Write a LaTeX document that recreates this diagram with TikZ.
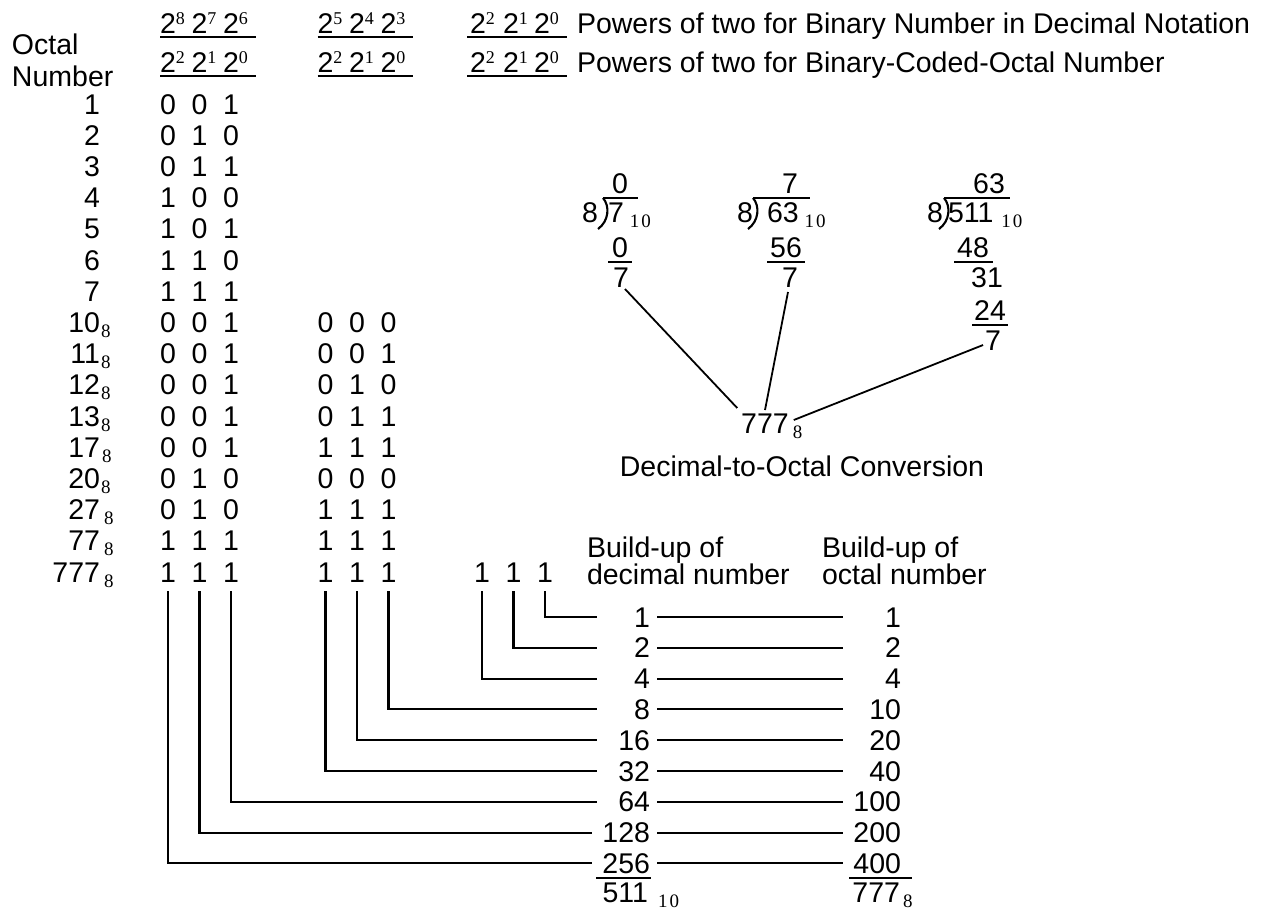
\documentclass[tikz,border=0pt]{standalone}
\usepackage{fontspec}
\setmainfont{Liberation Sans}
\newfontfamily\serf{Liberation Serif}
\usetikzlibrary{calc}
\newcommand\expo[1]{\rlap{\raisebox{9pt}{\serf\fontsize{18}{18}\selectfont #1}}}
\newcommand\subs[1]{\raisebox{-5pt}{\serf\fontsize{19}{19}\selectfont #1}}
\newcommand\trip[6]{%
  \node[dg] (#1a) at (#3,#2) {#4};
  \node[dg] (#1b) at ({#3+31.5},#2) {#5};
  \node[dg] (#1c) at ({#3+63},#2) {#6};}
\begin{document}
\begin{tikzpicture}[x=1pt,y=-1pt,
  every node/.style={inner sep=0pt, outer sep=0pt, font=\fontsize{28.5}{30}\selectfont},
  ln/.style={line width=2.1pt},
  dg/.style={anchor=base}]
\fill[white] (0,0) rectangle (1261,911);
\useasboundingbox (0,0) rectangle (1261,911);

% ---- headers
\foreach \x/\e [count=\k] in {168/8,199.5/7,231/6,325.5/5,357/4,388.5/3,478/2,511/1,542/0}
  \node[dg] (ha\k) at (\x,33) {2\expo{\e}};
\foreach \x/\e [count=\k] in {168/2,199.5/1,231/0,325.5/2,357/1,388.5/0,478/2,511/1,542/0}
  \node[dg] (hb\k) at (\x,72) {2\expo{\e}};
\foreach \r in {a,b}{
  \draw[ln] ($(h\r1.base west)+(0,4)$) -- ($(h\r3.base east)+(17,4)$);
  \draw[ln] ($(h\r4.base west)+(0,4)$) -- ($(h\r6.base east)+(17,4)$);
  \draw[ln] ($(h\r7.base west)+(-3,4)$) -- ($(h\r9.base east)+(17,4)$);
}
\node[anchor=base west] (t1) at (577,33) {Powers of two for Binary Number in Decimal Notation};
\node[anchor=base west] (t2) at (577,72) {Powers of two for Binary-Coded-Octal Number};
\node[anchor=base west] (oc) at (12,54) {Octal};
\node[anchor=base west] (nu) at (12,86) {Number};

% ---- octal numbers
\foreach \l/\y [count=\k from 0] in {1/114,2/145.2,3/176.4,4/207.6,5/238.8,6/270,7/301.2}
  \node[anchor=base east] (o\k) at (100,\y) {\l};
\foreach \l/\y/\kk [count=\k from 7] in {10/332.4/1,11/363.6/1,12/394.8/1,13/426/1,17/457.2/2,20/488.4/1,27/519.6/4,77/550.8/4,777/582/4}
  \node[anchor=base east] (o\k) at (100,\y) {\l\rlap{\kern\kk pt\subs{8}}};

% ---- binary digits
\trip{r0g1}{114}{168}{0}{0}{1}
\trip{r1g1}{145.2}{168}{0}{1}{0}
\trip{r2g1}{176.4}{168}{0}{1}{1}
\trip{r3g1}{207.6}{168}{1}{0}{0}
\trip{r4g1}{238.8}{168}{1}{0}{1}
\trip{r5g1}{270}{168}{1}{1}{0}
\trip{r6g1}{301.2}{168}{1}{1}{1}
\trip{r7g1}{332.4}{168}{0}{0}{1}   \trip{r7g2}{332.4}{325.5}{0}{0}{0}
\trip{r8g1}{363.6}{168}{0}{0}{1}   \trip{r8g2}{363.6}{325.5}{0}{0}{1}
\trip{r9g1}{394.8}{168}{0}{0}{1}   \trip{r9g2}{394.8}{325.5}{0}{1}{0}
\trip{r10g1}{426}{168}{0}{0}{1}    \trip{r10g2}{426}{325.5}{0}{1}{1}
\trip{r11g1}{457.2}{168}{0}{0}{1}  \trip{r11g2}{457.2}{325.5}{1}{1}{1}
\trip{r12g1}{488.4}{168}{0}{1}{0}  \trip{r12g2}{488.4}{325.5}{0}{0}{0}
\trip{r13g1}{519.6}{168}{0}{1}{0}  \trip{r13g2}{519.6}{325.5}{1}{1}{1}
\trip{r14g1}{550.8}{168}{1}{1}{1}  \trip{r14g2}{550.8}{325.5}{1}{1}{1}
\trip{r15g1}{582}{168}{1}{1}{1}    \trip{r15g2}{582}{325.5}{1}{1}{1}
\trip{r15g3}{582}{482}{1}{1}{1}

% ---- decimal-to-octal divisions
% 7
\node[dg] (q1) at (620,193) {0};
\node[anchor=base east] (dv1) at (598,222) {8};
\node[anchor=base west] (dd1) at (608,222) {7\kern6pt\subs{1\kern2pt 0}};
\draw[ln] (603,198) -- (638,198);
\draw[ln] (603,198) .. controls (610,206) and (609,221) .. (598,229);
\node[dg] (s1) at (620,257) {0};
\draw[ln] ($(s1.base west)+(-4,5)$) -- ($(s1.base east)+(4,5)$);
\node[dg] (m1) at (621,287) {7};
% 63
\node[dg] (q2) at (790,193) {7};
\node[anchor=base east] (dv2) at (753,222) {8};
\node[anchor=base west] (dd2) at (767,222) {63\kern6pt\subs{1\kern2pt 0}};
\draw[ln] (753,198) -- (810,198);
\draw[ln] (753,198) .. controls (760,206) and (759,221) .. (748,229);
\node[dg] (s2) at (786,257) {56};
\draw[ln] ($(s2.base west)+(-3,5)$) -- ($(s2.base east)+(3,5)$);
\node[dg] (m2) at (790,287) {7};
% 511
\node[dg] (q3) at (989,193) {63};
\node[anchor=base east] (dv3) at (943,222) {8};
\node[anchor=base west] (dd3) at (948,222) {511\kern8pt\subs{1\kern2pt 0}};
\draw[ln] (944,198) -- (1010,198);
\draw[ln] (944,198) .. controls (951,206) and (950,221) .. (939,229);
\node[dg] (s3) at (973,257) {48};
\draw[ln] ($(s3.base west)+(-3,5)$) -- ($(s3.base east)+(4,5)$);
\node[dg] (m3) at (987,287) {31};
\node[dg] (s4) at (990,320) {24};
\draw[ln] ($(s4.base west)+(-2,5)$) -- ($(s4.base east)+(2,5)$);
\node[dg] (m4) at (993,350) {7};
% result
\node[dg] (res) at (765,433) {777\rlap{\kern4pt\subs{8}}};
\draw[line width=1.8pt] ($(m1.base)+(4,2)$) -- ($(res.base west)+(-4,-25)$);
\draw[line width=1.8pt] ($(m2.base)+(-2,5)$) -- ($(res.base)+(0,-23)$);
\draw[line width=1.8pt] ($(m4.base west)+(-2,-5)$) -- ($(res.base east)+(5,-13)$);
\node[dg] (cap) at (802,476) {Decimal-to-Octal Conversion};

% ---- build-up
\node[anchor=base west] (bu1) at (587,557) {Build-up of};
\node[anchor=base west] (bu2) at (587,584) {decimal number};
\node[anchor=base west] (bu3) at (822,557) {Build-up of};
\node[anchor=base west] (bu4) at (822,584) {octal number};

\foreach \dv/\ov/\src/\xe [count=\k from 0] in
  {1/1/r15g3c/597, 2/2/r15g3b/597, 4/4/r15g3a/597,
   8/10/r15g2c/597, 16/20/r15g2b/597, 32/40/r15g2a/597,
   64/100/r15g1c/597, 128/200/r15g1b/592, 256/400/r15g1a/592}{
  \pgfmathsetmacro\yy{617+30.8*\k}
  \node[anchor=base east] (dec\k) at (650,{\yy+10}) {\dv};
  \node[anchor=base east] (oct\k) at (901,{\yy+10}) {\ov};
  \coordinate (le\k) at (\xe,\yy);
  \coordinate (ra\k) at (657,\yy);
  \coordinate (rb\k) at (843,\yy);
  \draw[ln] ($(\src.base)+(0,9)$) |- (le\k);
  \draw[ln] (ra\k) -- (rb\k);
}
\draw[ln] ($(dec8.base west)+(-6,5)$) -- ($(dec8.base east)+(1,5)$);
\draw[ln] ($(oct8.base west)+(-4,5)$) -- ($(oct8.base east)+(11,5)$);
\node[anchor=base east] (sum10) at (648,902) {511\rlap{\kern10pt\subs{1\kern2pt 0}}};
\node[anchor=base east] (sum8) at (900,902) {777\rlap{\kern3pt\subs{8}}};
\end{tikzpicture}
\end{document}
